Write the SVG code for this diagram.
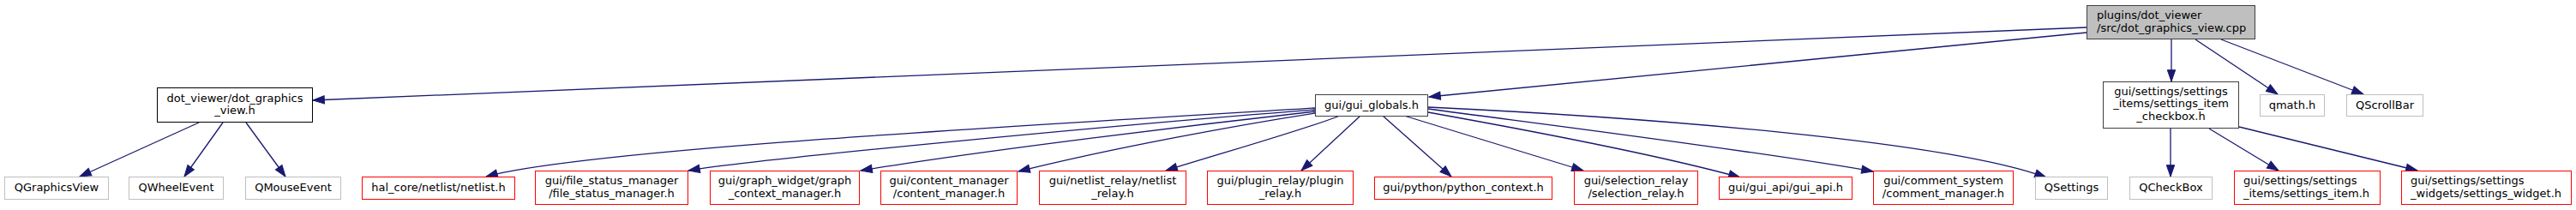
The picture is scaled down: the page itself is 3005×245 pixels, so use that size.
<svg xmlns="http://www.w3.org/2000/svg" width="3005" height="245" viewBox="0 0 3005 245">
<style>
.n rect{fill:#ffffff;stroke-width:1}
.b rect{stroke:#404040}
.k rect{stroke:#000000}
.r rect{stroke:#ff0000}
.g rect{stroke:#bfbfbf}
.m rect{fill:#bfbfbf;stroke:#404040}
text{font-family:"DejaVu Sans","Liberation Sans",sans-serif;font-size:13px;fill:#000000;text-anchor:middle}
text.l{text-anchor:start}
.e path{fill:none;stroke:#191970;stroke-width:1.3;marker-end:url(#arr)}
</style>
<defs>
<marker id="arr" markerUnits="userSpaceOnUse" markerWidth="16" markerHeight="12" refX="13.3" refY="4.67" orient="auto" overflow="visible">
<path d="M0,0 L13.3,4.67 L0,9.33 z" fill="#191970" stroke="#191970" stroke-width="1"/>
</marker>
</defs>
<rect x="0" y="0" width="3005" height="245" fill="#ffffff"/>
<g id="edges" class="e">
<path d="M2434,32 L365,117"/>
<path d="M2434,38 L1667,113"/>
<path d="M2533,46 L2533,95"/>
<path d="M2561,46 L2657,110"/>
<path d="M2591,46 L2757,110"/>
<path d="M2532,150 L2532,206"/>
<path d="M2577,150 L2658,199"/>
<path d="M2612,148 L2820,199"/>
<path d="M232,143 L93,206"/>
<path d="M260,143 L215,206"/>
<path d="M287,143 L333,206"/>
<path d="M1534,126 C1134,150 677,176 567,206"/>
<path d="M1534,128 C1300,146 880,186 803,199"/>
<path d="M1534,130 C1400,145 1150,175 1004,199"/>
<path d="M1534,132 C1450,145 1300,172 1188,200"/>
<path d="M1563,135 C1520,152 1420,180 1360,199"/>
<path d="M1587,135 L1518,199"/>
<path d="M1613,135 L1693,206"/>
<path d="M1638,135 L1847,199"/>
<path d="M1666,131 C1800,155 1950,185 2030,207"/>
<path d="M1666,127 C1800,145 2050,176 2185,200"/>
<path d="M1666,125 C1920,137 2270,164 2387,207"/>
</g>
<g id="n_cpp" class="n m"><rect x="2434.5" y="6.5" width="196" height="39"/><text class="l" x="2446" y="22">plugins/dot_viewer</text><text class="l" x="2446" y="36.5">/src/dot_graphics_view.cpp</text></g>
<g id="n_dotview" class="n k"><rect x="183.5" y="102.5" width="181" height="40"/><text x="274" y="118.5">dot_viewer/dot_graphics</text><text x="274" y="133">_view.h</text></g>
<g id="n_qgraphicsview" class="n g"><rect x="5.5" y="206.5" width="121" height="26"/><text x="66" y="223">QGraphicsView</text></g>
<g id="n_qwheelevent" class="n g"><rect x="150.5" y="206.5" width="110" height="26"/><text x="205.5" y="223">QWheelEvent</text></g>
<g id="n_qmouseevent" class="n g"><rect x="286.5" y="206.5" width="111" height="26"/><text x="342" y="223">QMouseEvent</text></g>
<g id="n_netlist" class="n r"><rect x="422.5" y="206.5" width="178" height="26"/><text x="511.5" y="223">hal_core/netlist/netlist.h</text></g>
<g id="n_filestatus" class="n r"><rect x="624.5" y="199.5" width="178" height="39"/><text x="713.5" y="215">gui/file_status_manager</text><text x="713.5" y="229.5">/file_status_manager.h</text></g>
<g id="n_graphcontext" class="n r"><rect x="828.5" y="199.5" width="174" height="39"/><text x="915.5" y="215">gui/graph_widget/graph</text><text x="915.5" y="229.5">_context_manager.h</text></g>
<g id="n_contentmgr" class="n r"><rect x="1027.5" y="199.5" width="159" height="39"/><text x="1107" y="215">gui/content_manager</text><text x="1107" y="229.5">/content_manager.h</text></g>
<g id="n_netlistrelay" class="n r"><rect x="1212.5" y="199.5" width="171" height="39"/><text x="1298" y="215">gui/netlist_relay/netlist</text><text x="1298" y="229.5">_relay.h</text></g>
<g id="n_pluginrelay" class="n r"><rect x="1408.5" y="199.5" width="170" height="39"/><text x="1493.5" y="215">gui/plugin_relay/plugin</text><text x="1493.5" y="229.5">_relay.h</text></g>
<g id="n_python" class="n r"><rect x="1603.5" y="206.5" width="207" height="26"/><text x="1707" y="223">gui/python/python_context.h</text></g>
<g id="n_selrelay" class="n r"><rect x="1836.5" y="199.5" width="144" height="39"/><text x="1908.5" y="215">gui/selection_relay</text><text x="1908.5" y="229.5">/selection_relay.h</text></g>
<g id="n_guiapi" class="n r"><rect x="2005.5" y="206.5" width="155" height="26"/><text x="2083" y="223">gui/gui_api/gui_api.h</text></g>
<g id="n_comment" class="n r"><rect x="2185.5" y="199.5" width="163" height="39"/><text x="2267" y="215">gui/comment_system</text><text x="2267" y="229.5">/comment_manager.h</text></g>
<g id="n_qsettings" class="n g"><rect x="2374.5" y="206.5" width="84" height="26"/><text x="2416.5" y="223">QSettings</text></g>
<g id="n_qcheckbox" class="n g"><rect x="2484.5" y="206.5" width="96" height="26"/><text x="2532.5" y="223">QCheckBox</text></g>
<g id="n_checkbox" class="n b"><rect x="2453.5" y="95.5" width="158" height="54"/><text x="2532.5" y="110.5">gui/settings/settings</text><text x="2532.5" y="125">_items/settings_item</text><text x="2532.5" y="139.5">_checkbox.h</text></g>
<g id="n_settingsitem" class="n r"><rect x="2606.5" y="199.5" width="170" height="39"/><text class="l" x="2617" y="215">gui/settings/settings</text><text class="l" x="2617" y="229.5">_items/settings_item.h</text></g>
<g id="n_settingswidget" class="n r"><rect x="2801.5" y="199.5" width="198" height="39"/><text class="l" x="2812" y="215">gui/settings/settings</text><text class="l" x="2812" y="229.5">_widgets/settings_widget.h</text></g>
<g id="n_qmath" class="n g"><rect x="2636.5" y="110.5" width="75" height="25"/><text x="2674" y="126.5">qmath.h</text></g>
<g id="n_qscrollbar" class="n g"><rect x="2737.5" y="110.5" width="89" height="25"/><text x="2782" y="126.5">QScrollBar</text></g>
<g id="n_guiglobals" class="n b"><rect x="1534.5" y="110.5" width="131" height="25"/><text x="1600" y="126.5">gui/gui_globals.h</text></g>
</svg>
